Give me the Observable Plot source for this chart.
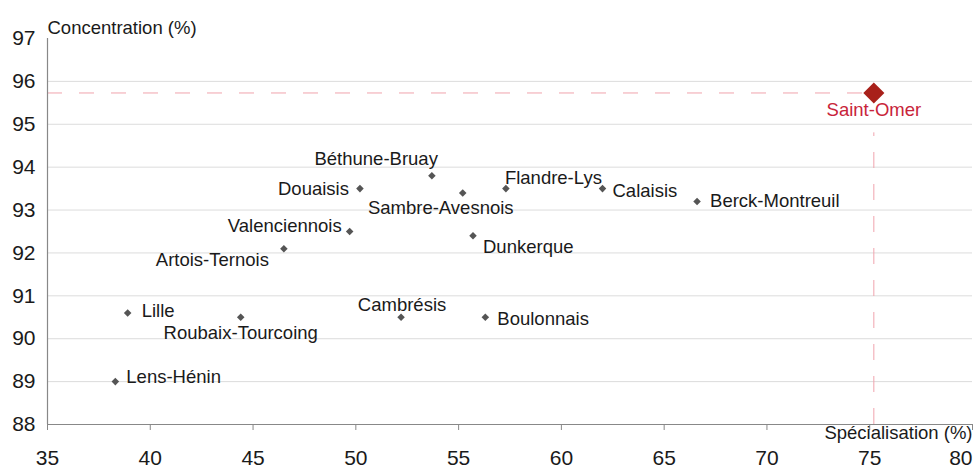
<!DOCTYPE html>
<html><head><meta charset="utf-8">
<script src="https://cdn.jsdelivr.net/npm/d3@7"></script>
<script src="https://cdn.jsdelivr.net/npm/@observablehq/plot@0.6"></script>
<style>body{margin:0;background:#fff;font-family:"Liberation Sans",Arial,sans-serif}</style>
</head><body><div id="chart"></div>
<script>
const regions = ["Lens-Hénin","Lille","Roubaix-Tourcoing","Artois-Ternois","Valenciennois","Douaisis","Béthune-Bruay","Sambre-Avesnois","Dunkerque","Flandre-Lys","Calaisis","Berck-Montreuil","Cambrésis","Boulonnais"];
const specialisation = [38.3,38.9,44.4,46.5,49.7,50.2,53.7,55.2,55.7,57.3,62.0,66.6,52.2,56.3];
const concentration = [89.0,90.6,90.5,92.1,92.5,93.5,93.8,93.4,92.4,93.5,93.5,93.2,90.5,90.5];
const highlightName = "Saint-Omer";
const highlightX = 75.2;
const highlightY = 95.73;
const xTicks = [35,40,45,50,55,60,65,70,75,80];
const yTicks = [88,89,90,91,92,93,94,95,96,97];
const xLabel = "Spécialisation (%)";
const yLabel = "Concentration (%)";

// label placement (style only): [dx, dy, textAnchor]
const place = {
  "Lens-Hénin":[11,-5,"start"],
  "Lille":[14,-2,"start"],
  "Roubaix-Tourcoing":[0,16,"middle"],
  "Artois-Ternois":[-15,11,"end"],
  "Valenciennois":[-8,-5,"end"],
  "Douaisis":[-11,0,"end"],
  "Béthune-Bruay":[6,-17,"end"],
  "Sambre-Avesnois":[-22,15,"middle"],
  "Dunkerque":[10,11,"start"],
  "Flandre-Lys":[-1,-11,"start"],
  "Calaisis":[10,2,"start"],
  "Berck-Montreuil":[13,0,"start"],
  "Cambrésis":[1,-12,"middle"],
  "Boulonnais":[12,2,"start"]
};

const data = regions.map((name,i)=>({name, x:specialisation[i], y:concentration[i]}));
const hl = [{name:highlightName, x:highlightX, y:highlightY}];

const LFS = 18.5;
const textMarks = data.map(d => Plot.text([d], {
  x:"x", y:"y", text:"name", textAnchor:place[d.name][2],
  dx:place[d.name][0], dy:place[d.name][1], fontSize:LFS, fill:"#1a1a1a"
}));

const chart = Plot.plot({
  width:974, height:472,
  marginLeft:47, marginRight:2, marginTop:38, marginBottom:48,
  x:{domain:[35,80]},
  y:{domain:[88,97]},
  style:{fontFamily:'"Liberation Sans",Arial,sans-serif', background:"#fff"},
  marks:[
    Plot.ruleY(yTicks.filter(d=>d>88 && d<97), {stroke:"#dcdcdc", strokeWidth:1}),
    Plot.ruleY([highlightY], {x1:35, x2:highlightX, stroke:"#f0a3ad", strokeDasharray:"15,17"}),
    Plot.ruleX([highlightX], {y1:88, y2:94.8, stroke:"#f0a3ad", strokeDasharray:"16,16"}),
    Plot.ruleX([35], {stroke:"#888", strokeWidth:1.2}),
    Plot.ruleY([88], {stroke:"#888", strokeWidth:1.2}),
    Plot.axisY(yTicks, {tickSize:0, tickPadding:12, fontSize:21, label:null, fill:"#1a1a1a"}),
    Plot.axisX(xTicks.slice(0,-1), {tickSize:6, tickPadding:20, fontSize:21, label:null, stroke:"#888", fill:"#1a1a1a"}),
    Plot.axisX(xTicks.slice(-1), {tickSize:6, tickPadding:20, fontSize:21, label:null, stroke:"#888", fill:"#1a1a1a", textAnchor:"end"}),
    Plot.text([yLabel], {frameAnchor:"top-left", text:d=>d, textAnchor:"start", dy:-18, fontSize:LFS, fill:"#1a1a1a"}),
    Plot.text([xLabel], {frameAnchor:"bottom-right", text:d=>d, textAnchor:"end", dy:14, fontSize:LFS, fill:"#1a1a1a"}),
    Plot.dot(data, {x:"x", y:"y", symbol:"diamond2", r:3.4, fill:"#555", stroke:null}),
    ...textMarks,
    Plot.dot(hl, {x:"x", y:"y", symbol:"diamond2", r:9.5, fill:"#a8201a", stroke:null}),
    Plot.text(hl, {x:"x", y:"y", text:"name", dy:17, fontSize:LFS, fill:"#c8243a"})
  ]
});
document.getElementById("chart").appendChild(chart);
</script></body></html>
